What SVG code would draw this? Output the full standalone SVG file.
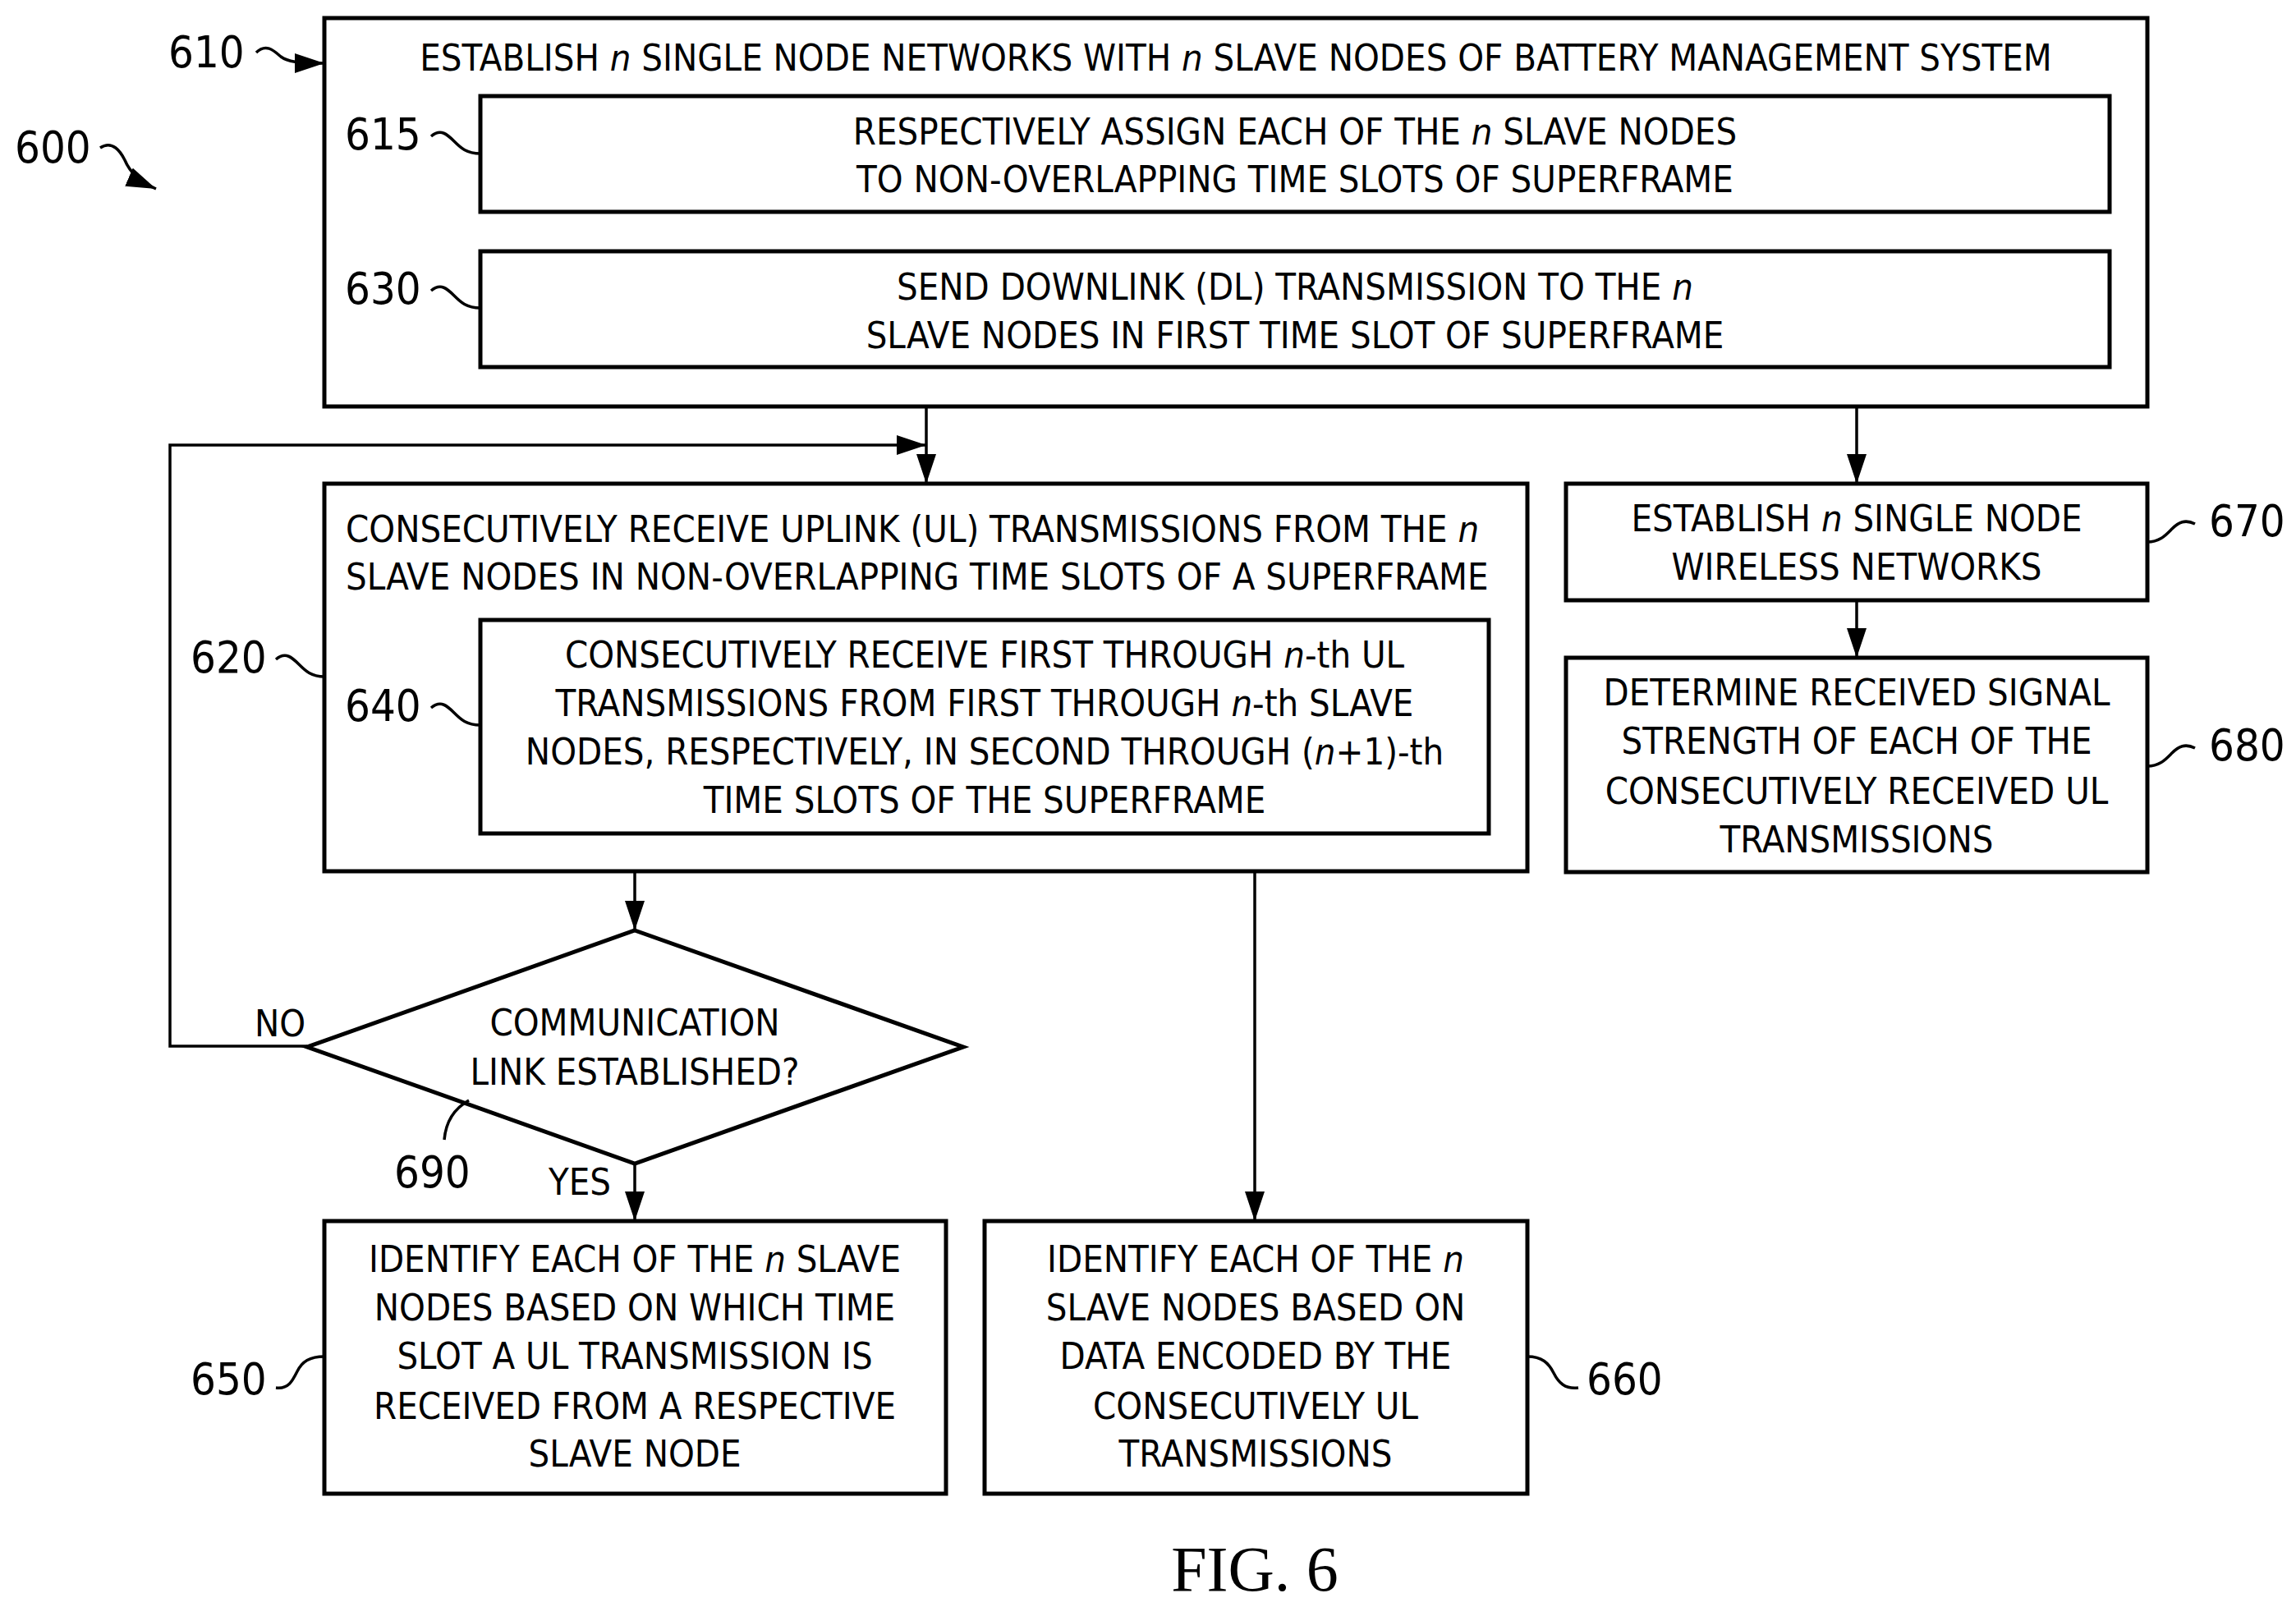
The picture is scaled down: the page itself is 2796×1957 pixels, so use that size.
<svg xmlns="http://www.w3.org/2000/svg" width="2796" height="1957" viewBox="0 0 2796 1957">
<style>
.b{fill:#fff;stroke:#000;stroke-width:5}
.l{fill:none;stroke:#000;stroke-width:3.5}
.t{font-family:"Liberation Sans Narrow","DejaVu Sans Condensed",sans-serif;font-size:45px;fill:#000;text-anchor:middle}
.la{font-family:"Liberation Sans Narrow","DejaVu Sans Condensed",sans-serif;font-size:54px;fill:#000}
.i{font-style:italic}
</style>
<defs>
<marker id="a" markerWidth="12" markerHeight="10" refX="12" refY="5" orient="auto" markerUnits="userSpaceOnUse" viewBox="0 0 12 10"><path d="M0,0L12,5L0,10z"/></marker>
<marker id="A" markerWidth="36" markerHeight="24" refX="36" refY="12" orient="auto" markerUnits="userSpaceOnUse" viewBox="0 0 36 24"><path d="M0,0L36,12L0,24z"/></marker>
</defs>
<rect width="2796" height="1957" fill="#fff"/>
<g id="connectors">
<path class="l" d="M1128,495V589" marker-end="url(#A)"/>
<path class="l" d="M374,1274H207V542H1128" marker-end="url(#A)"/>
<path class="l" d="M2261,495V589" marker-end="url(#A)"/>
<path class="l" d="M2261,731V801" marker-end="url(#A)"/>
<path class="l" d="M773,1061V1133" marker-end="url(#A)"/>
<path class="l" d="M773,1417V1487" marker-end="url(#A)"/>
<path class="l" d="M1528,1061V1487" marker-end="url(#A)"/>
<text class="la" x="310" y="1262" style="font-size:45px">NO</text>
<text class="la" x="668" y="1455" style="font-size:45px">YES</text>
</g>
<g id="n600">
<text class="la" x="18" y="198">600</text>
<path class="l" d="M122,180c15,-10 25,5 30,15c5,12 15,25 38,35" marker-end="url(#A)"/>
</g>
<g id="n610">
<rect class="b" x="395" y="22" width="2220" height="473"/>
<text class="la" x="205" y="82">610</text>
<path class="l" d="M312,64c12,-12 22,-2 30,5c8,6 20,8 53,8" marker-end="url(#A)"/>
<text class="t" x="1505" y="86">ESTABLISH <tspan class="i">n</tspan> SINGLE NODE NETWORKS WITH <tspan class="i">n</tspan> SLAVE NODES OF BATTERY MANAGEMENT SYSTEM</text>
</g>
<g id="n615">
<rect class="b" x="585" y="117" width="1984" height="141"/>
<text class="la" x="420" y="182">615</text>
<path class="l" d="M525,166c12,-10 20,-2 28,6c8,8 15,15 32,15"/>
<text class="t" x="1577" y="176">RESPECTIVELY ASSIGN EACH OF THE <tspan class="i">n</tspan> SLAVE NODES</text>
<text class="t" x="1577" y="234">TO NON-OVERLAPPING TIME SLOTS OF SUPERFRAME</text>
</g>
<g id="n630">
<rect class="b" x="585" y="306" width="1984" height="141"/>
<text class="la" x="420" y="370">630</text>
<path class="l" d="M525,354c12,-10 20,-2 28,6c8,8 15,15 32,15"/>
<text class="t" x="1577" y="365">SEND DOWNLINK (DL) TRANSMISSION TO THE <tspan class="i">n</tspan></text>
<text class="t" x="1577" y="424">SLAVE NODES IN FIRST TIME SLOT OF SUPERFRAME</text>
</g>
<g id="n620">
<rect class="b" x="395" y="589" width="1465" height="472"/>
<text class="la" x="232" y="819">620</text>
<path class="l" d="M336,803c12,-10 20,-2 28,6c8,8 15,15 31,15"/>
<text class="t" x="421" y="660" style="text-anchor:start">CONSECUTIVELY RECEIVE UPLINK (UL) TRANSMISSIONS FROM THE <tspan class="i">n</tspan></text>
<text class="t" x="421" y="718" style="text-anchor:start">SLAVE NODES IN NON-OVERLAPPING TIME SLOTS OF A SUPERFRAME</text>
</g>
<g id="n640">
<rect class="b" x="585" y="755" width="1228" height="260"/>
<text class="la" x="420" y="878">640</text>
<path class="l" d="M525,862c12,-10 20,-2 28,6c8,8 15,15 32,15"/>
<text class="t" x="1199" y="813">CONSECUTIVELY RECEIVE FIRST THROUGH <tspan class="i">n</tspan>-th UL</text>
<text class="t" x="1199" y="872">TRANSMISSIONS FROM FIRST THROUGH <tspan class="i">n</tspan>-th SLAVE</text>
<text class="t" x="1199" y="931">NODES, RESPECTIVELY, IN SECOND THROUGH (<tspan class="i">n</tspan>+1)-th</text>
<text class="t" x="1199" y="990">TIME SLOTS OF THE SUPERFRAME</text>
</g>
<g id="n670">
<rect class="b" x="1907" y="589" width="708" height="142"/>
<text class="la" x="2690" y="653">670</text>
<path class="l" d="M2615,660c15,0 22,-8 30,-16c8,-8 16,-12 28,-6"/>
<text class="t" x="2261" y="647">ESTABLISH <tspan class="i">n</tspan> SINGLE NODE</text>
<text class="t" x="2261" y="706">WIRELESS NETWORKS</text>
</g>
<g id="n680">
<rect class="b" x="1907" y="801" width="708" height="261"/>
<text class="la" x="2690" y="926">680</text>
<path class="l" d="M2615,933c15,0 22,-8 30,-16c8,-8 16,-12 28,-6"/>
<text class="t" x="2261" y="859">DETERMINE RECEIVED SIGNAL</text>
<text class="t" x="2261" y="918">STRENGTH OF EACH OF THE</text>
<text class="t" x="2261" y="979">CONSECUTIVELY RECEIVED UL</text>
<text class="t" x="2261" y="1038">TRANSMISSIONS</text>
</g>
<g id="n690">
<polygon class="b" points="773,1133 1173,1275 773,1417 374,1275"/>
<text class="t" x="773" y="1261">COMMUNICATION</text>
<text class="t" x="773" y="1321">LINK ESTABLISHED?</text>
<text class="la" x="480" y="1446">690</text>
<path class="l" d="M571,1340c-18,10 -28,25 -30,48"/>
</g>
<g id="n650">
<rect class="b" x="395" y="1487" width="757" height="332"/>
<text class="la" x="232" y="1698">650</text>
<path class="l" d="M336,1690c15,2 20,-8 26,-20c6,-12 15,-18 33,-18"/>
<text class="t" x="773" y="1549">IDENTIFY EACH OF THE <tspan class="i">n</tspan> SLAVE</text>
<text class="t" x="773" y="1608">NODES BASED ON WHICH TIME</text>
<text class="t" x="773" y="1667">SLOT A UL TRANSMISSION IS</text>
<text class="t" x="773" y="1728">RECEIVED FROM A RESPECTIVE</text>
<text class="t" x="773" y="1786">SLAVE NODE</text>
</g>
<g id="n660">
<rect class="b" x="1199" y="1487" width="661" height="332"/>
<text class="la" x="1932" y="1698">660</text>
<path class="l" d="M1860,1652c18,0 26,8 32,20c6,12 14,20 30,18"/>
<text class="t" x="1529" y="1549">IDENTIFY EACH OF THE <tspan class="i">n</tspan></text>
<text class="t" x="1529" y="1608">SLAVE NODES BASED ON</text>
<text class="t" x="1529" y="1667">DATA ENCODED BY THE</text>
<text class="t" x="1529" y="1728">CONSECUTIVELY UL</text>
<text class="t" x="1529" y="1786">TRANSMISSIONS</text>
</g>
<text x="1528" y="1937" style="font-family:'Liberation Serif',serif;font-size:78px;text-anchor:middle">FIG. 6</text>
</svg>
